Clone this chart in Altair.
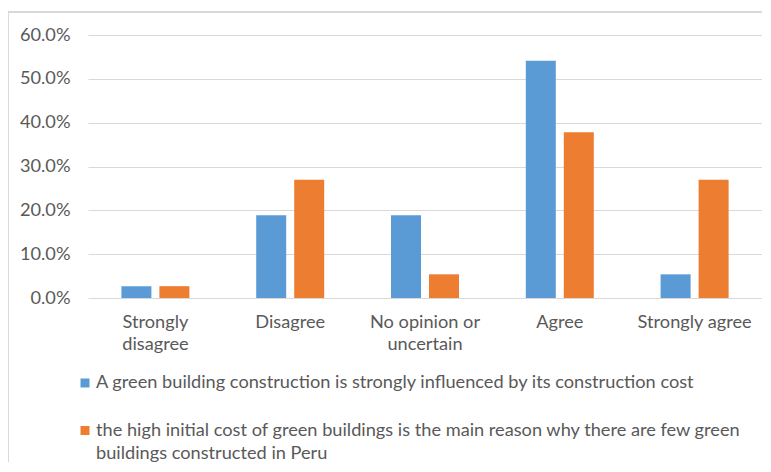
import altair as alt
import pandas as pd

categories = ["Strongly disagree", "Disagree", "No opinion or uncertain", "Agree", "Strongly agree"]
series_names = [
    "A green building construction is strongly influenced by its construction cost",
    "the high initial cost of green buildings is the main reason why there are few green buildings constructed in Peru",
]
legend_labels = [
    "A green building construction is strongly influenced by its construction cost",
    "the high initial cost of green buildings is the main reason why there are few green\nbuildings constructed in Peru",
]
series_a = [0.027, 0.189, 0.189, 0.541, 0.054]
series_b = [0.027, 0.270, 0.054, 0.378, 0.270]
colors = ["#5B9BD5", "#ED7D31"]

rows = []
for c, a, b in zip(categories, series_a, series_b):
    rows.append({"category": c, "series": series_names[0], "value": a})
    rows.append({"category": c, "series": series_names[1], "value": b})
df = pd.DataFrame(rows)
legend_df = pd.DataFrame({"series": series_names, "label": legend_labels})

FONT = "Lato"
FS = 18.2
GRAY = "#595959"

x_label_expr = (
    "datum.label == 'Strongly disagree' ? ['Strongly', 'disagree'] : "
    "datum.label == 'No opinion or uncertain' ? ['No opinion or', 'uncertain'] : datum.label"
)

color_scale = alt.Scale(domain=series_names, range=colors)

bars = alt.Chart(df).mark_bar().encode(
    x=alt.X(
        "category:N",
        sort=categories,
        scale=alt.Scale(paddingInner=0, paddingOuter=0),
        axis=alt.Axis(
            title=None, labelAngle=0, ticks=False, domain=False, grid=False,
            labelExpr=x_label_expr, labelFont=FONT, labelFontSize=FS,
            labelColor=GRAY, labelPadding=15, labelLineHeight=22,
        ),
    ),
    xOffset=alt.XOffset(
        "series:N", sort=series_names,
        scale=alt.Scale(paddingInner=0.2105, paddingOuter=0.879),
    ),
    y=alt.Y(
        "value:Q",
        scale=alt.Scale(domain=[0, 0.6], nice=False),
        axis=alt.Axis(
            title=None, format=".1%", values=[0, 0.1, 0.2, 0.3, 0.4, 0.5, 0.6],
            ticks=False, domain=False, gridColor="#d9d9d9", gridWidth=1,
            labelFont=FONT, labelFontSize=FS, labelColor=GRAY, labelPadding=18,
        ),
    ),
    color=alt.Color("series:N", sort=series_names, scale=color_scale, legend=None),
)

legend_y = alt.Y(
    "series:N", sort=series_names,
    scale=alt.Scale(type="point", range=[339, 386.5], padding=0),
    axis=None,
)

legend_sq = alt.Chart(legend_df).mark_square(size=81, opacity=1, yOffset=9).encode(
    x=alt.value(-3),
    y=legend_y,
    color=alt.Color("series:N", sort=series_names, scale=color_scale, legend=None),
)

legend_txt = alt.Chart(legend_df).mark_text(
    align="left", baseline="top", font=FONT, fontSize=FS, color=GRAY,
    lineBreak="\n", lineHeight=23,
).encode(
    x=alt.value(8),
    y=legend_y,
    text="label:N",
)

frame_df = pd.DataFrame({"k": [0]})
frame = alt.Chart(frame_df).mark_rect(fill=None, stroke="#d9d9d9", strokeWidth=2).encode(
    x=alt.value(-80), x2=alt.value(720), y=alt.value(-23), y2=alt.value(470)
)

chart = alt.layer(frame, bars, legend_sq, legend_txt).resolve_scale(
    y="independent"
).properties(
    width=674, height=263,
    padding={"left": 80, "top": 27, "right": 0, "bottom": 164},
    autosize=alt.AutoSizeParams(type="none"),
    background="white",
).configure_view(stroke=None)

chart.save("out.html", embed_options={"renderer": "svg", "actions": False})
